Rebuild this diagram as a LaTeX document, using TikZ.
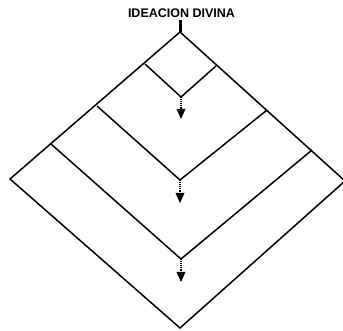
\documentclass[tikz,border=0pt]{standalone}
\usepackage{fontspec}
\setmainfont{Liberation Sans}
\usetikzlibrary{arrows.meta}
\begin{document}
\begin{tikzpicture}[x=1pt,y=-1pt,
  edge/.style={line width=1.5pt,line join=miter},
  flow/.style={line width=1.1pt,densely dotted,-{Triangle[width=9pt,length=10pt,line width=0pt]}},
  title/.style={font=\bfseries\fontsize{12.5}{13}\selectfont,inner sep=0pt}]
\useasboundingbox (0,0) rectangle (343,331);
\node[title] (t) at (181.5,13) {IDEACION DIVINA};
% outer diamond
\coordinate (top) at (180,32);
\coordinate (L) at (10,179);
\coordinate (R) at (345,181);
\coordinate (B) at (180,328);
% small diamond
\coordinate (l1) at (145,64);
\coordinate (r1) at (216,66);
\coordinate (b1) at (181,97);
% second V
\coordinate (l2) at (97,106);
\coordinate (r2) at (267,110);
\coordinate (b2) at (180,180);
% third V
\coordinate (l3) at (51,144);
\coordinate (r3) at (312,150);
\coordinate (b3) at (181,259);
% arrow ends
\coordinate (a1) at (181,119);
\coordinate (a2) at (180,203);
\coordinate (a3) at (181,282);
\coordinate (tb) at (180,20);
\draw[line width=3pt] (tb) -- (top);
\draw[edge] (top) -- (L) -- (B) -- (R) -- cycle;
\draw[edge] (l1) -- (b1) -- (r1);
\draw[edge] (l2) -- (b2) -- (r2);
\draw[edge] (l3) -- (b3) -- (r3);
\draw[flow] (b1) -- (a1);
\draw[flow] (b2) -- (a2);
\draw[flow] (b3) -- (a3);
\end{tikzpicture}
\end{document}
